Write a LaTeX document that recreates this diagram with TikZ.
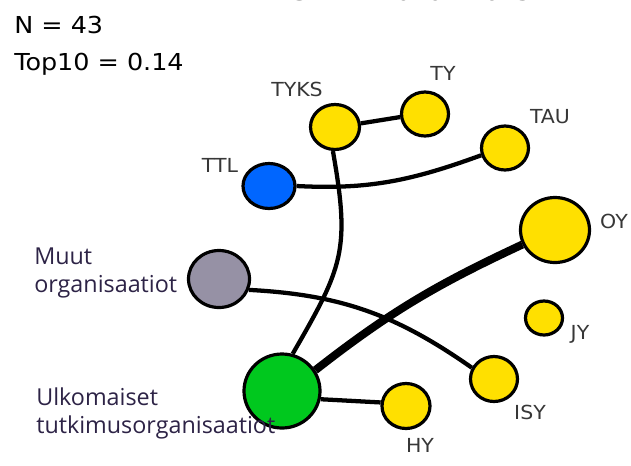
\documentclass[tikz,border=0pt]{standalone}
\usepackage{fontspec}
\setmainfont{DejaVu Sans}
\newfontfamily\labfont{Open Sans}
\usetikzlibrary{shapes.geometric,backgrounds}
\definecolor{nyellow}{RGB}{255,224,0}
\definecolor{nblue}{RGB}{0,102,255}
\definecolor{ngrey}{RGB}{150,145,165}
\definecolor{ngreen}{RGB}{0,200,30}
\definecolor{labgrey}{RGB}{55,55,55}
\definecolor{labpurple}{RGB}{45,35,70}
\tikzset{
  nd/.style={ellipse, draw=black, line width=2.4pt, inner sep=0pt},
  yl/.style={nd, fill=nyellow},
  lab/.style={inner sep=0pt, text=labgrey, font=\fontsize{14.5}{17}\selectfont},
  stat/.style={inner sep=0pt, anchor=base west, text=black, font=\fontsize{17.5}{21}\selectfont},
  grp/.style={inner sep=0pt, anchor=base west, align=left, text=labpurple, font=\labfont\fontsize{17.5}{21}\selectfont},
  edge/.style={line width=3.2pt, draw=black},
  thickedge/.style={line width=6pt, draw=black}
}
\begin{document}
\begin{tikzpicture}[x=0.75pt,y=-0.75pt]
\useasboundingbox (0,0) rectangle (631,465);
\clip (0,0) rectangle (631,465);
% title (cut off at top)
\node[stat, text=labgrey] (title) at (262,0.8) {\scalebox{1.07}[1]{FYSIIKKA 2010 - 2015}};
\node[stat] (n) at (14,33) {\scalebox{1.09}[1]{N = 43}};
\node[stat] (top) at (14,70) {\scalebox{1.09}[1]{Top10 = 0.14}};
% nodes
\node[yl, minimum width=36.75pt, minimum height=33.75pt] (tyks) at (335,127) {};
\node[yl, minimum width=35.25pt, minimum height=33pt] (ty) at (425,114) {};
\node[yl, minimum width=35.25pt, minimum height=33pt] (tau) at (505,148) {};
\node[nd, fill=nblue, minimum width=39pt, minimum height=33.75pt] (ttl) at (269,186) {};
\node[yl, minimum width=51.75pt, minimum height=48.75pt] (oy) at (555,230) {};
\node[yl, minimum width=27.75pt, minimum height=25.5pt] (jy) at (544,318) {};
\node[nd, fill=ngrey, minimum width=45.75pt, minimum height=42.75pt] (muut) at (219,279) {};
\node[nd, fill=ngreen, minimum width=57pt, minimum height=55.5pt] (ulk) at (282,391) {};
\node[yl, minimum width=36pt, minimum height=33.75pt] (hy) at (406,406) {};
\node[yl, minimum width=35.25pt, minimum height=33.75pt] (isy) at (494,379) {};
% labels
\node[lab] (ltyks) at (297,89) {\scalebox{1.06}[1]{TYKS}};
\node[lab] (lty) at (443,73) {\scalebox{1.06}[1]{TY}};
\node[lab] (ltau) at (550,117) {\scalebox{1.06}[1]{TAU}};
\node[lab] (lttl) at (220,165) {\scalebox{1.06}[1]{TTL}};
\node[lab] (loy) at (614,221) {\scalebox{1.06}[1]{OY}};
\node[lab] (ljy) at (580,334) {\scalebox{1.06}[1]{JY}};
\node[lab] (lisy) at (530,412) {\scalebox{1.06}[1]{ISY}};
\node[lab] (lhy) at (420,445) {\scalebox{1.06}[1]{HY}};
\node[grp] (lmuut) at (34,292) {Muut\\organisaatiot};
\node[grp] (lulk) at (36,433) {Ulkomaiset\\tutkimusorganisaatiot};
% edges
\begin{pgfonlayer}{background}
\draw[edge] (tyks.8) -- (ty.187);
\draw[edge] (ttl.0) to[out=-3,in=200] (tau.197);
\draw[edge] (tyks.265) to[out=-80,in=60,looseness=1.25] (ulk.74);
\draw[edge] (muut.-20) to[out=-3,in=145] (isy.153);
\draw[thickedge] (ulk.32) to[out=38,in=205] (oy.204);
\draw[edge] (ulk.-12) -- (hy.172);
\end{pgfonlayer}
\end{tikzpicture}
\end{document}
